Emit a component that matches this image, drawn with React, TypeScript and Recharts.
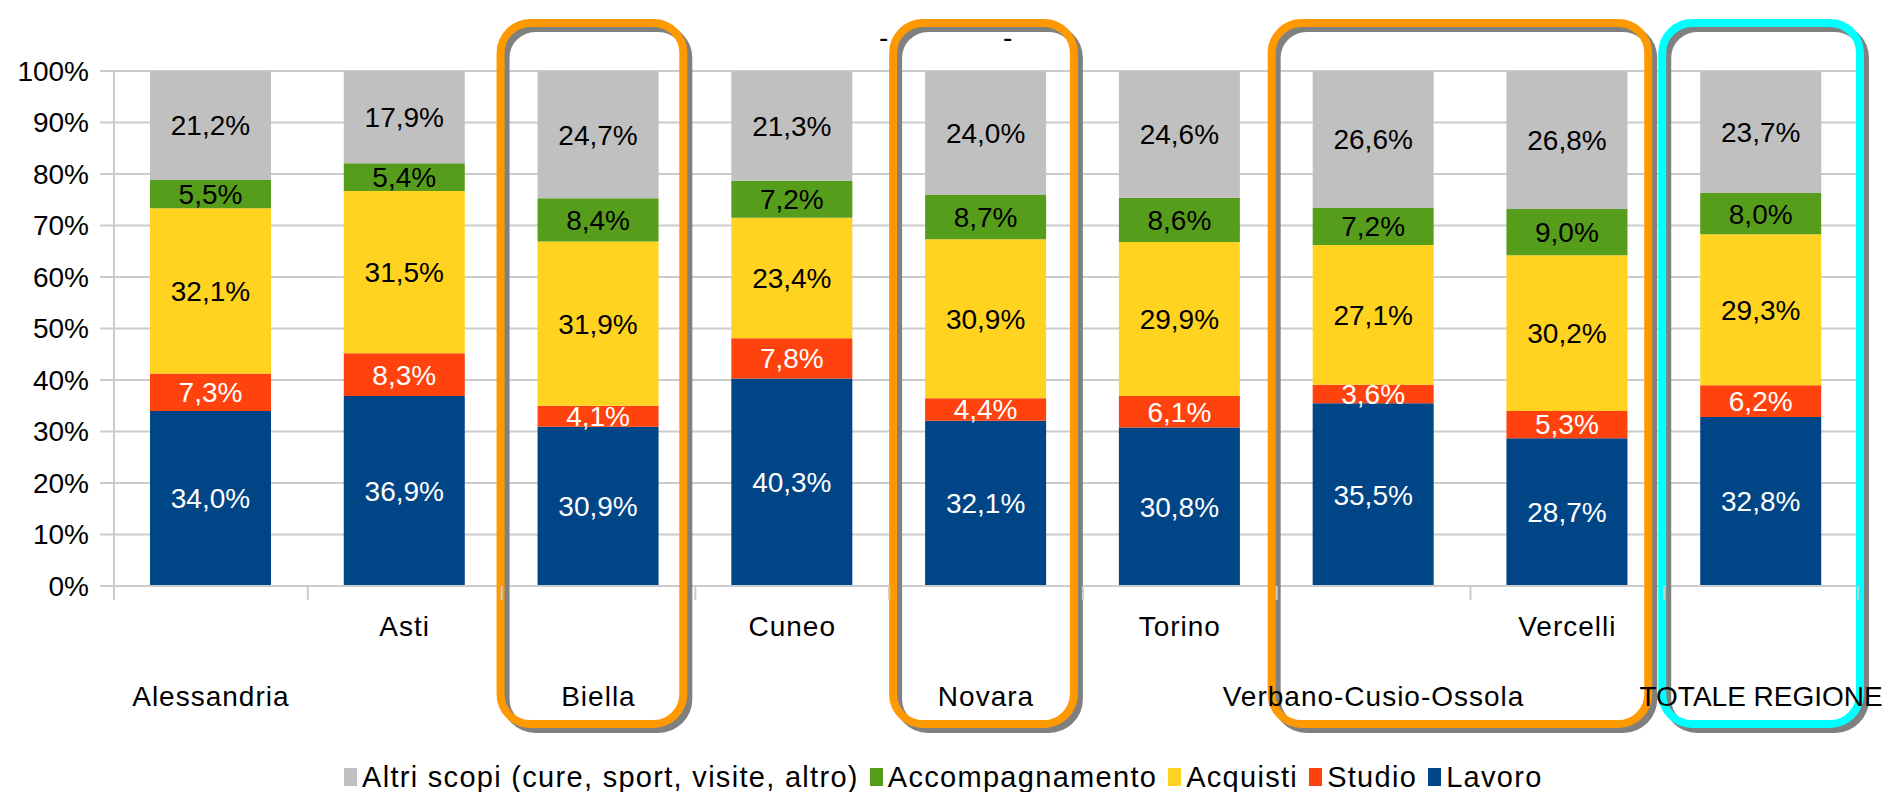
import React from 'react';
import { BarChart, Bar, XAxis, YAxis, CartesianGrid, Legend, LabelList, ReferenceArea } from 'recharts';

document.body.style.margin = '0';

const provinces = ['Alessandria', 'Asti', 'Biella', 'Cuneo', 'Novara', 'Torino', 'Verbano-Cusio-Ossola', 'Vercelli', 'TOTALE REGIONE'];
const lavoro = [34.0, 36.9, 30.9, 40.3, 32.1, 30.8, 35.5, 28.7, 32.8];
const studio = [7.3, 8.3, 4.1, 7.8, 4.4, 6.1, 3.6, 5.3, 6.2];
const acquisti = [32.1, 31.5, 31.9, 23.4, 30.9, 29.9, 27.1, 30.2, 29.3];
const accompagnamento = [5.5, 5.4, 8.4, 7.2, 8.7, 8.6, 7.2, 9.0, 8.0];
const altri = [21.2, 17.9, 24.7, 21.3, 24.0, 24.6, 26.6, 26.8, 23.7];
const yTicks = [0, 0.1, 0.2, 0.3, 0.4, 0.5, 0.6, 0.7, 0.8, 0.9, 1];

const data = provinces.map((name, i) => ({
  name,
  lavoro: lavoro[i],
  studio: studio[i],
  acquisti: acquisti[i],
  accompagnamento: accompagnamento[i],
  altri: altri[i],
}));

// bottom to top
const series = [
  { key: 'lavoro', label: 'Lavoro', color: '#004586', text: '#ffffff' },
  { key: 'studio', label: 'Studio', color: '#ff420e', text: '#ffffff' },
  { key: 'acquisti', label: 'Acquisti', color: '#ffd320', text: '#000000' },
  { key: 'accompagnamento', label: 'Accompagnamento', color: '#579d1c', text: '#000000' },
  { key: 'altri', label: 'Altri scopi (cure, sport, visite, altro)', color: '#c0c0c0', text: '#000000' },
];

// highlight boxes drawn over the categories
const boxes = [
  { from: 'Biella', to: 'Biella', color: '#ff9900', dl: -1, dr: -12 },
  { from: 'Novara', to: 'Novara', color: '#ff9900', dl: 4, dr: -9 },
  { from: 'Verbano-Cusio-Ossola', to: 'Vercelli', color: '#ff9900', dl: -5, dr: -16 },
  { from: 'TOTALE REGIONE', to: 'TOTALE REGIONE', color: '#00ffff', dl: -2, dr: 2 },
];

const W = 1892;
const H = 792;
const Y_W = 114;
const M_RIGHT = 34;
const CAT_W = (W - Y_W - M_RIGHT) / provinces.length;
const FONT = '"Liberation Sans", Arial, sans-serif';
const GRID = '#cccccc';

const fmt = (v: number) => v.toFixed(1).replace('.', ',') + '%';

const CatTick = (props: any) => {
  const { x, y, payload, index } = props;
  const half = CAT_W / 2;
  const last = index === provinces.length - 1;
  const dy = index % 2 === 1 ? 40 : 110;
  return (
    <g>
      <line x1={x - half} x2={x - half} y1={y} y2={y + 14} stroke={GRID} strokeWidth={2} />
      {last && <line x1={x + half} x2={x + half} y1={y} y2={y + 14} stroke={GRID} strokeWidth={2} />}
      <text x={x} y={y + dy} textAnchor="middle" dominantBaseline="central" fill="#000"
        style={{ fontFamily: FONT, fontSize: 28, letterSpacing: last ? 0 : 1 }}>
        {payload.value}
      </text>
    </g>
  );
};

const makeBox = (b: typeof boxes[number]) => (p: any) => {
  const x0 = p.x + b.dl;
  const x1 = p.x + p.width + b.dr;
  const y0 = p.y - 48;
  const y1 = p.y + p.height + 138;
  return (
    <g>
      <rect x={x0 + 5} y={y0 + 5} width={x1 - x0} height={y1 - y0} rx={30} ry={30}
        fill="none" stroke="#808080" strokeWidth={8} />
      <rect x={x0} y={y0} width={x1 - x0} height={y1 - y0} rx={30} ry={30}
        fill="none" stroke={b.color} strokeWidth={8} />
    </g>
  );
};

const LegendContent = () => (
  <div style={{ display: 'flex', alignItems: 'center', height: 30, paddingLeft: 344, fontFamily: FONT, fontSize: 29, letterSpacing: 1.3, color: '#000' }}>
    {[...series].reverse().map((s) => (
      <div key={s.key} style={{ display: 'flex', alignItems: 'center', marginRight: 11 }}>
        <span style={{ display: 'inline-block', width: 13, height: 18, background: s.color, marginRight: 5 }} />
        <span>{s.label}</span>
      </div>
    ))}
  </div>
);

export default function App() {
  return (
    <div style={{ position: 'relative', width: W, height: H, background: '#fff' }}>
      <BarChart width={W} height={H} data={data} stackOffset="expand"
        margin={{ top: 71, right: M_RIGHT, bottom: 0, left: 0 }}>
        <CartesianGrid vertical={false} stroke={GRID} strokeWidth={2} />
        <XAxis dataKey="name" interval={0} tickLine={false} tickSize={0} tickMargin={0}
          axisLine={{ stroke: GRID, strokeWidth: 2 }} height={176} tick={<CatTick />} />
        <YAxis width={Y_W} domain={[0, 1]} ticks={yTicks} interval={0}
          tickFormatter={(v: number) => Math.round(v * 100) + '%'}
          tickSize={14} tickMargin={11}
          tickLine={{ stroke: GRID, strokeWidth: 2 }} axisLine={{ stroke: GRID, strokeWidth: 2 }}
          tick={{ fill: '#000', fontSize: 28, fontFamily: FONT }} />
        {series.map((s) => (
          <Bar key={s.key} dataKey={s.key} name={s.label} stackId="a" fill={s.color}
            barSize={121} isAnimationActive={false}>
            <LabelList dataKey={s.key} position="center" fill={s.text}
              style={{ fontFamily: FONT, fontSize: 28 }}
              formatter={(v: any) => fmt(Number(v))} />
          </Bar>
        ))}
        {boxes.map((b) => (
          <ReferenceArea key={b.from} x1={b.from} x2={b.to} ifOverflow="visible"
            zIndex={600} shape={makeBox(b)} />
        ))}
        <Legend verticalAlign="bottom" content={<LegendContent />}
          wrapperStyle={{ left: 0, width: W, height: 30 }} />
      </BarChart>
      <span style={{ position: 'absolute', left: 879, top: 22, fontFamily: FONT, fontSize: 28 }}>-</span>
      <span style={{ position: 'absolute', left: 1003, top: 22, fontFamily: FONT, fontSize: 28 }}>-</span>
    </div>
  );
}
